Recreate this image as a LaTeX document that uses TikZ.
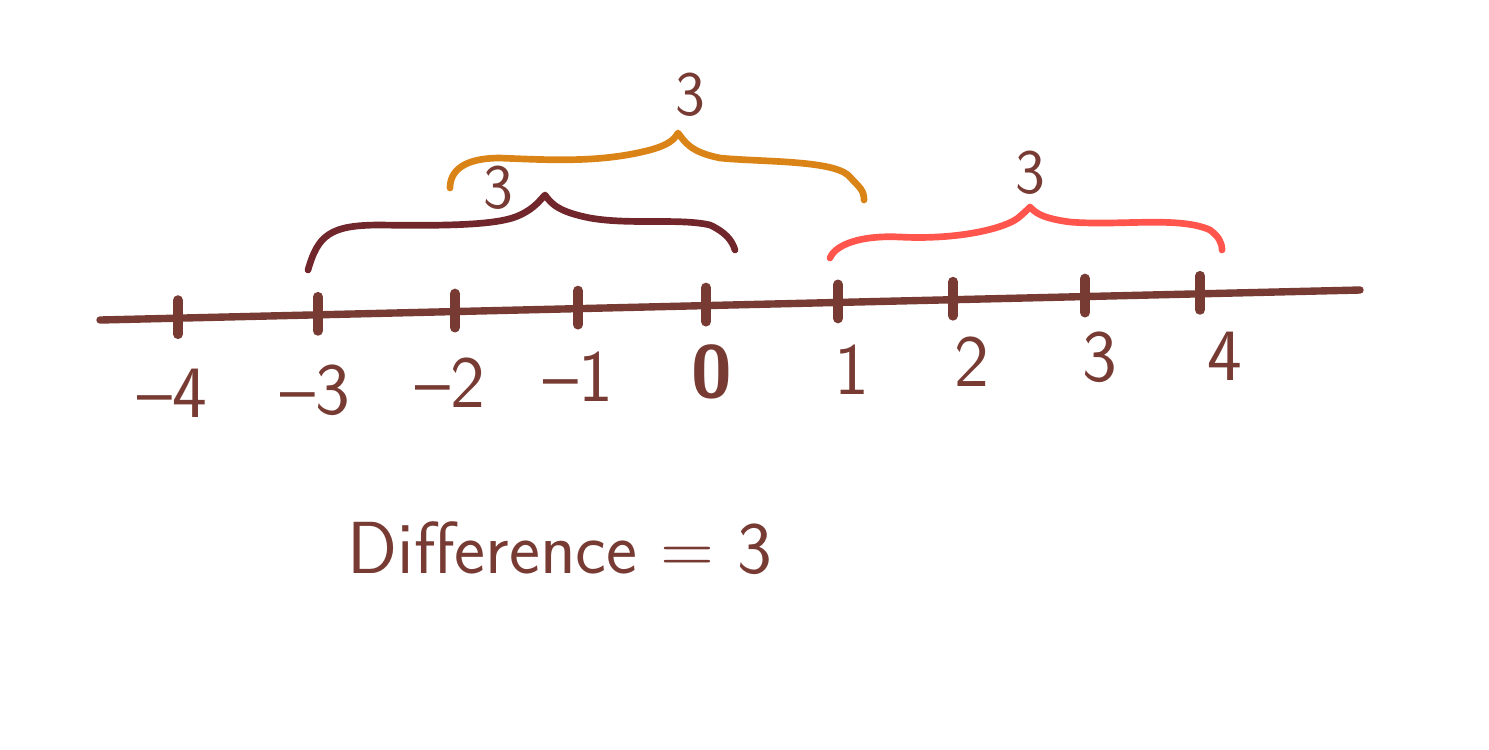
\documentclass[tikz,border=0pt]{standalone}
\usepackage{tikz}
\usetikzlibrary{calc,positioning}
\definecolor{inkbrown}{HTML}{773B33}
\definecolor{darkbrace}{HTML}{70262B}
\definecolor{orangebrace}{HTML}{DA8418}
\definecolor{redbrace}{HTML}{FF554D}
\tikzset{
  numline/.style={draw=inkbrown, line width=2.1pt, line cap=round},
  tickmark/.style={draw=inkbrown, line width=2.8pt, line cap=round},
  numlabel/.style={text=inkbrown, font=\sffamily\fontsize{21}{24}\selectfont, inner sep=0pt},
  bracelabel/.style={text=inkbrown, font=\sffamily\fontsize{18}{20}\selectfont, inner sep=0pt},
  handbrace/.style={line width=1.9pt, line cap=round, line join=round},
}
\begin{document}
\begin{tikzpicture}[x=0.1mm, y=-0.1mm]
  \useasboundingbox (0,0) rectangle (1489,749);
  % number line
  \coordinate (lineL) at (100,320);
  \coordinate (lineR) at (1360,290);
  \draw[numline] (lineL) -- (lineR);
  \foreach \n/\x in {m4/178, m3/318, m2/455, m1/578, z/706, p1/838, p2/953, p3/1085, p4/1200} {
    \coordinate (t\n) at ($(lineL)!{(\x-100)/1260}!(lineR)$);
    \draw[tickmark] ($(t\n)+(0,-18)$) -- ($(t\n)+(0,16)$);
  }
  % labels under the ticks
  \node (lm4) [numlabel] at (172,393) {--4};
  \node (lm3) [numlabel] at (315,390) {--3};
  \node (lm2) [numlabel] at (450,383) {--2};
  \node (lm1) [numlabel] at (578,377) {--1};
  \node (lz)  [numlabel, font=\sffamily\bfseries\fontsize{21}{24}\selectfont] at (712,372) {0};
  \node (lp1) [numlabel] at (852,370) {1};
  \node (lp2) [numlabel] at (972,362) {2};
  \node (lp3) [numlabel] at (1100,357) {3};
  \node (lp4) [numlabel] at (1225,356) {4};
  % braces
  \coordinate (darkL) at (308,270);
  \coordinate (darkTop) at (545,195);
  \coordinate (darkR) at (735,250);
  \draw[handbrace, darkbrace] (darkL) .. controls (318,235) and (330,225) .. (380,225)
    .. controls (450,226) and (500,225) .. (520,215)
    .. controls (535,208) and (540,200) .. (darkTop)
    .. controls (552,205) and (560,212) .. (590,218)
    .. controls (630,225) and (680,218) .. (710,225)
    .. controls (725,232) and (732,240) .. (darkR);
  \coordinate (orangeL) at (450,188);
  \coordinate (orangeTop) at (678,133);
  \coordinate (orangeR) at (864,200);
  \draw[handbrace, orangebrace] (orangeL) .. controls (450,170) and (465,158) .. (500,158)
    .. controls (550,160) and (600,163) .. (650,150)
    .. controls (668,145) and (674,140) .. (orangeTop)
    .. controls (685,142) and (690,152) .. (720,158)
    .. controls (760,162) and (830,160) .. (848,175)
    .. controls (860,188) and (864,190) .. (orangeR);
  \coordinate (redL) at (830,258);
  \coordinate (redTop) at (1030,207);
  \coordinate (redR) at (1222,250);
  \draw[handbrace, redbrace] (redL) .. controls (835,245) and (860,235) .. (900,237)
    .. controls (960,240) and (1005,228) .. (1018,218)
    .. controls (1024,213) and (1027,210) .. (redTop)
    .. controls (1035,212) and (1040,218) .. (1070,222)
    .. controls (1120,226) and (1180,216) .. (1210,230)
    .. controls (1218,236) and (1222,242) .. (redR);
  \node (darkval)   [bracelabel] at (498,188) {3};
  \node (orangeval) [bracelabel] at (690,95) {3};
  \node (redval)    [bracelabel] at (1030,173) {3};
  % result
  \node (diff) [numlabel] at (560,548) {Difference = 3};
\end{tikzpicture}
\end{document}
